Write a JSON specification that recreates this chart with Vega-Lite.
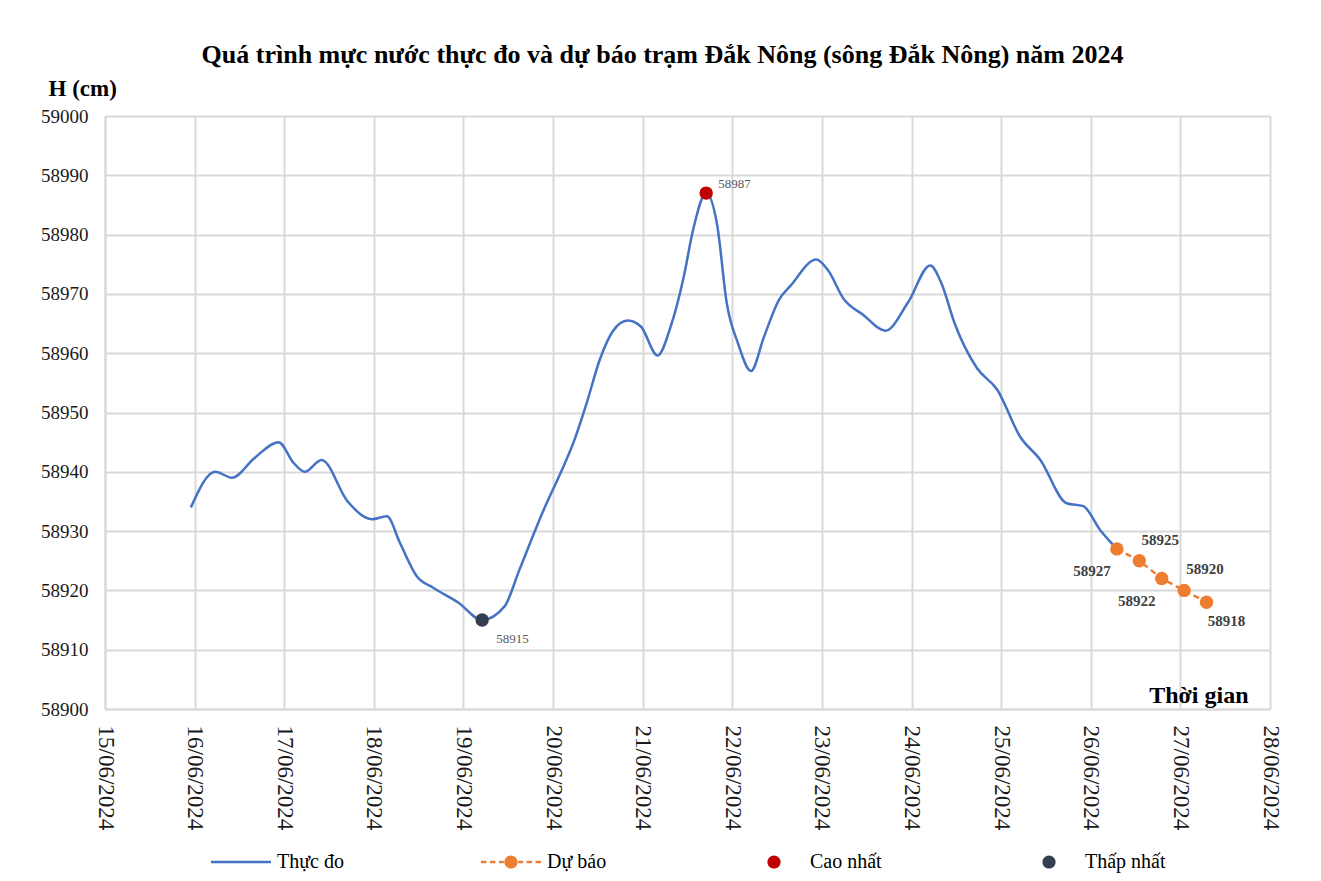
{
  "$schema": "https://vega.github.io/schema/vega-lite/v6.json",
  "autosize": {"type": "none"},
  "width": 1165,
  "height": 593,
  "padding": {"left": 105, "top": 116, "right": 51, "bottom": 172},
  "background": "white",
  "config": {
    "font": "Liberation Serif",
    "view": {"stroke": null},
    "axis": {"gridColor": "#D9D9D9", "gridWidth": 2, "domainColor": "#D9D9D9", "domainWidth": 2, "ticks": false, "labelFont": "Liberation Serif", "labelColor": "#1a1a1a"}
  },
  "title": {"text": "Quá trình mực nước thực đo và dự báo trạm Đắk Nông (sông Đắk Nông) năm 2024", "font": "Liberation Serif", "fontSize": 26, "fontWeight": "bold", "color": "#000000", "anchor": "middle", "dx": -25, "offset": 9},
  "datasets": {
    "obs": [
      {"t": "2024-06-15T23:00", "h": 58934},
      {"t": "2024-06-16T05:30", "h": 58940},
      {"t": "2024-06-16T10:00", "h": 58939},
      {"t": "2024-06-16T16:00", "h": 58942.3},
      {"t": "2024-06-16T22:30", "h": 58945},
      {"t": "2024-06-17T02:30", "h": 58941.5},
      {"t": "2024-06-17T05:30", "h": 58940},
      {"t": "2024-06-17T10:00", "h": 58942},
      {"t": "2024-06-17T17:00", "h": 58935},
      {"t": "2024-06-17T23:30", "h": 58932},
      {"t": "2024-06-18T03:30", "h": 58932.5},
      {"t": "2024-06-18T07:00", "h": 58928},
      {"t": "2024-06-18T11:30", "h": 58922.4},
      {"t": "2024-06-18T16:00", "h": 58920.4},
      {"t": "2024-06-18T22:30", "h": 58918},
      {"t": "2024-06-19T05:00", "h": 58915},
      {"t": "2024-06-19T11:00", "h": 58917.3},
      {"t": "2024-06-19T15:00", "h": 58923.5},
      {"t": "2024-06-19T21:30", "h": 58933.6},
      {"t": "2024-06-20T02:00", "h": 58939.8},
      {"t": "2024-06-20T05:30", "h": 58945},
      {"t": "2024-06-20T09:00", "h": 58951.6},
      {"t": "2024-06-20T12:30", "h": 58958.9},
      {"t": "2024-06-20T16:00", "h": 58963.7},
      {"t": "2024-06-20T20:00", "h": 58965.5},
      {"t": "2024-06-20T23:30", "h": 58964.5},
      {"t": "2024-06-21T04:00", "h": 58959.6},
      {"t": "2024-06-21T07:30", "h": 58964.5},
      {"t": "2024-06-21T11:00", "h": 58972.9},
      {"t": "2024-06-21T13:30", "h": 58980.8},
      {"t": "2024-06-21T17:00", "h": 58987},
      {"t": "2024-06-21T20:00", "h": 58981.4},
      {"t": "2024-06-21T22:30", "h": 58968.5},
      {"t": "2024-06-22T01:30", "h": 58961.7},
      {"t": "2024-06-22T05:00", "h": 58957},
      {"t": "2024-06-22T08:30", "h": 58962.8},
      {"t": "2024-06-22T12:30", "h": 58969},
      {"t": "2024-06-22T15:30", "h": 58971.3},
      {"t": "2024-06-22T22:30", "h": 58975.8},
      {"t": "2024-06-23T01:30", "h": 58974.1},
      {"t": "2024-06-23T06:00", "h": 58969},
      {"t": "2024-06-23T11:00", "h": 58966.5},
      {"t": "2024-06-23T17:00", "h": 58963.8},
      {"t": "2024-06-23T23:00", "h": 58968.5},
      {"t": "2024-06-24T05:00", "h": 58974.8},
      {"t": "2024-06-24T08:00", "h": 58971.8},
      {"t": "2024-06-24T11:30", "h": 58965.1},
      {"t": "2024-06-24T17:30", "h": 58957.5},
      {"t": "2024-06-24T23:00", "h": 58953.8},
      {"t": "2024-06-25T05:00", "h": 58946},
      {"t": "2024-06-25T10:30", "h": 58942},
      {"t": "2024-06-25T17:30", "h": 58934.7},
      {"t": "2024-06-25T22:00", "h": 58934.2},
      {"t": "2024-06-26T02:30", "h": 58930.2},
      {"t": "2024-06-26T07:00", "h": 58927}
    ],
    "pts": [
      {"t": "2024-06-26T07:00", "h": 58927, "series": "Dự báo", "k": 1},
      {"t": "2024-06-26T13:00", "h": 58925, "series": "Dự báo", "k": 2},
      {"t": "2024-06-26T19:00", "h": 58922, "series": "Dự báo", "k": 3},
      {"t": "2024-06-27T01:00", "h": 58920, "series": "Dự báo", "k": 4},
      {"t": "2024-06-27T07:00", "h": 58918, "series": "Dự báo", "k": 5},
      {"t": "2024-06-21T17:00", "h": 58987, "series": "Cao nhất", "k": 0},
      {"t": "2024-06-19T05:00", "h": 58915, "series": "Thấp nhất", "k": 0}
    ]
  },
  "encoding": {
    "x": {"field": "t", "type": "temporal",
      "scale": {"domain": ["2024-06-15T00:00", "2024-06-28T00:00"], "nice": false},
      "axis": {"format": "%d/%m/%Y", "labelAngle": 90, "labelAlign": "left", "labelBaseline": "middle", "labelPadding": 16, "labelFontSize": 23,
        "tickCount": {"interval": "day", "step": 1}, "labelOverlap": false, "labelFlush": false, "labelBound": false,
        "title": "Thời gian", "titleFont": "Liberation Serif", "titleFontSize": 24, "titleFontWeight": "bold", "titleColor": "#000000",
        "titleAnchor": "end", "titleAlign": "right", "titleBaseline": "middle", "titleX": 1143, "titleY": -14}},
    "y": {"field": "h", "type": "quantitative",
      "scale": {"domain": [58900, 59000], "nice": false, "zero": false},
      "axis": {"values": [58900, 58910, 58920, 58930, 58940, 58950, 58960, 58970, 58980, 58990, 59000], "labelPadding": 17, "labelFontSize": 19, "format": "d",
        "title": "H (cm)", "titleFont": "Liberation Serif", "titleFontSize": 23, "titleFontWeight": "bold", "titleColor": "#000000",
        "titleAngle": 0, "titleAlign": "left", "titleBaseline": "middle", "titleX": -57, "titleY": -28}}
  },
  "layer": [
    {"data": {"name": "obs"}, "mark": {"type": "line", "color": "#4472C4", "strokeWidth": 2.5, "interpolate": "monotone"}},
    {"data": {"name": "pts"}, "transform": [{"filter": "datum.k > 0"}], "mark": {"type": "line", "color": "#ED7D31", "strokeWidth": 2.5, "strokeDash": [6, 4]}},
    {"data": {"name": "pts"}, "mark": {"type": "point", "filled": true, "opacity": 0, "size": 1},
      "encoding": {
        "color": {"field": "series", "type": "nominal",
          "scale": {"domain": ["Thực đo", "Dự báo", "Cao nhất", "Thấp nhất"], "range": ["#4472C4", "#ED7D31", "#C00000", "#333F50"]},
          "legend": {"title": null, "orient": "none", "direction": "horizontal", "legendX": 106, "legendY": 716, "padding": 0,
            "symbolSize": 3600, "symbolOpacity": 1, "symbolStrokeWidth": 0, "labelOffset": 6, "columnPadding": 137,
            "labelFont": "Liberation Serif", "labelFontSize": 20, "labelColor": "#000000"}},
        "shape": {"field": "series", "type": "nominal",
          "scale": {"domain": ["Thực đo", "Dự báo", "Cao nhất", "Thấp nhất"], "range": [
            "M-1,-0.042H1V0.042H-1Z",
            "M-1,-0.042H-0.82V0.042H-1ZM-0.7,-0.042H-0.52V0.042H-0.7ZM-0.4,-0.042H-0.24V0.042H-0.4ZM0.24,-0.042H0.4V0.042H0.24ZM0.52,-0.042H0.7V0.042H0.52ZM0.82,-0.042H1V0.042H0.82ZM-0.22,0A0.22,0.22 0 1,0 0.22,0A0.22,0.22 0 1,0 -0.22,0Z",
            "M-0.22,0A0.22,0.22 0 1,0 0.22,0A0.22,0.22 0 1,0 -0.22,0Z",
            "M-0.22,0A0.22,0.22 0 1,0 0.22,0A0.22,0.22 0 1,0 -0.22,0Z"]},
          "legend": {"title": null, "orient": "none", "direction": "horizontal", "legendX": 106, "legendY": 716, "padding": 0,
            "symbolSize": 3600, "symbolOpacity": 1, "symbolStrokeWidth": 0, "labelOffset": 6, "columnPadding": 137,
            "labelFont": "Liberation Serif", "labelFontSize": 20, "labelColor": "#000000"}}
      }},
    {"data": {"name": "pts"}, "mark": {"type": "point", "filled": true, "opacity": 1, "size": 180, "shape": "circle"},
      "encoding": {"color": {"field": "series", "type": "nominal",
          "legend": {"title": null, "orient": "none", "direction": "horizontal", "legendX": 106, "legendY": 716, "padding": 0,
            "symbolSize": 3600, "symbolOpacity": 1, "symbolStrokeWidth": 0, "labelOffset": 6, "columnPadding": 137,
            "labelFont": "Liberation Serif", "labelFontSize": 20, "labelColor": "#000000"}}}},
    {"data": {"name": "pts"}, "transform": [{"filter": "datum.k == 2 || datum.k == 4"}],
      "mark": {"type": "text", "font": "Liberation Serif", "fontSize": 15, "fontWeight": "bold", "color": "#404040", "dx": 21, "dy": -21},
      "encoding": {"text": {"field": "h", "type": "quantitative", "format": "d"}}},
    {"data": {"name": "pts"}, "transform": [{"filter": "datum.k == 1 || datum.k == 3"}],
      "mark": {"type": "text", "font": "Liberation Serif", "fontSize": 15, "fontWeight": "bold", "color": "#404040", "dx": -25, "dy": 22},
      "encoding": {"text": {"field": "h", "type": "quantitative", "format": "d"}}},
    {"data": {"name": "pts"}, "transform": [{"filter": "datum.k == 5"}],
      "mark": {"type": "text", "font": "Liberation Serif", "fontSize": 15, "fontWeight": "bold", "color": "#404040", "dx": 20, "dy": 19},
      "encoding": {"text": {"field": "h", "type": "quantitative", "format": "d"}}},
    {"data": {"name": "pts"}, "transform": [{"filter": "datum.series == 'Cao nhất'"}],
      "mark": {"type": "text", "font": "Liberation Serif", "fontSize": 13, "color": "#595959", "align": "left", "dx": 12, "dy": -9},
      "encoding": {"text": {"field": "h", "type": "quantitative", "format": "d"}}},
    {"data": {"name": "pts"}, "transform": [{"filter": "datum.series == 'Thấp nhất'"}],
      "mark": {"type": "text", "font": "Liberation Serif", "fontSize": 13, "color": "#595959", "align": "left", "dx": 14, "dy": 19},
      "encoding": {"text": {"field": "h", "type": "quantitative", "format": "d"}}}
  ]
}
